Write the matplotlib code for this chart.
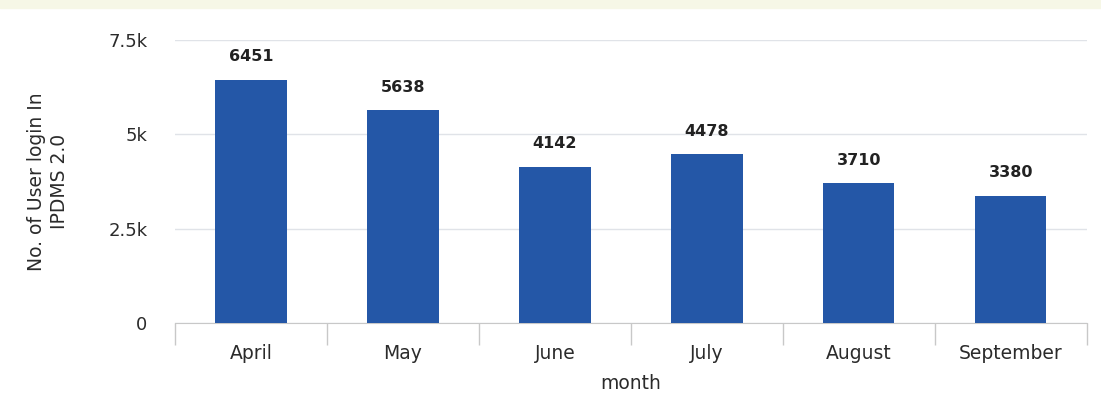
import matplotlib
matplotlib.use("Agg")
import matplotlib.pyplot as plt
from matplotlib.patches import Rectangle
from matplotlib.ticker import FuncFormatter, FixedLocator
import numpy as np

months = ["April", "May", "June", "July", "August", "September"]
logins = [6451, 5638, 4142, 4478, 3710, 3380]
y_ticks = [0, 2500, 5000, 7500]

plt.rcParams['font.family'] = ['DejaVu Sans']

fig = plt.figure(figsize=(11.01, 4.01), dpi=100)
# light yellow band across the top
fig.patches.append(Rectangle((0, 0.98), 1, 0.02, transform=fig.transFigure,
                             color="#f6f7e6", zorder=0))

ax = fig.add_axes([0.159, 0.1945, 0.828, 0.7055])

x = np.arange(len(months))
bars = ax.bar(x, logins, width=0.47, color="#2457a7", zorder=3)

for xi, v in zip(x, logins):
    ax.annotate(str(v), (xi, v), xytext=(0, 11), textcoords="offset points",
                ha="center", va="bottom", fontsize=11.5, fontweight="bold",
                color="#222222")

ax.set_xlim(-0.5, len(months) - 0.5)
ax.set_ylim(0, 7500)
ax.set_yticks(y_ticks)
ax.yaxis.set_major_formatter(FuncFormatter(
    lambda v, p: "0" if v == 0 else ("%gk" % (v / 1000))))
ax.grid(axis="y", color="#e0e3e8", linewidth=1, zorder=0)

ax.set_xticks(x)
ax.set_xticklabels(months)
ax.xaxis.set_minor_locator(FixedLocator(np.arange(-0.5, len(months), 1)))
ax.tick_params(axis="x", which="major", length=0, pad=15, labelsize=13.5,
               labelcolor="#2b2b2b")
ax.tick_params(axis="x", which="minor", length=16, color="#c8c8c8", width=1)
ax.tick_params(axis="y", length=0, pad=20, labelsize=13, labelcolor="#2b2b2b")

for s in ["top", "right", "left"]:
    ax.spines[s].set_visible(False)
ax.spines["bottom"].set_color("#c8c8c8")

ax.set_xlabel("month", fontsize=13.5, color="#2b2b2b", labelpad=8)
ax.set_ylabel("No. of User login In\nIPDMS 2.0", fontsize=13.5,
              color="#2b2b2b", labelpad=28, linespacing=1.3)

fig.savefig("out.png", dpi=100)
